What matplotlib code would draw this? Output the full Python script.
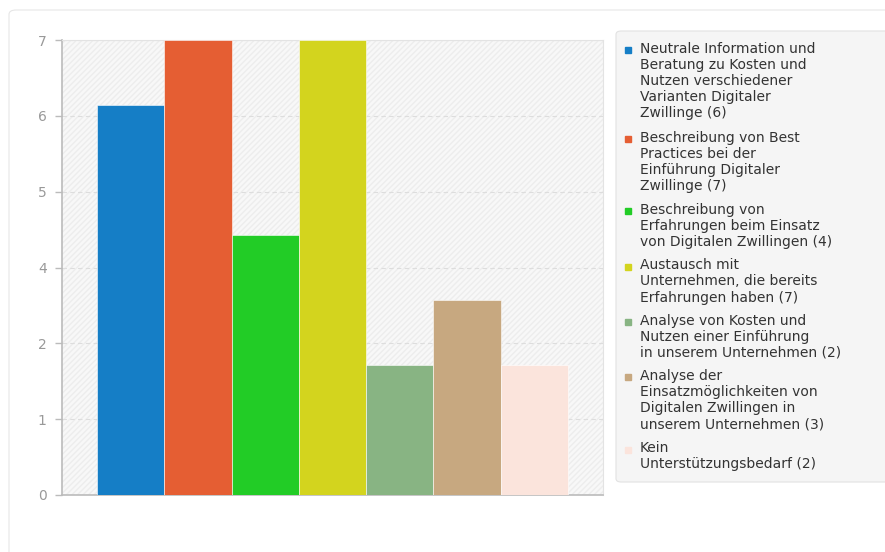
import matplotlib
matplotlib.use("Agg")
import matplotlib.pyplot as plt
import numpy as np
from matplotlib.patches import FancyBboxPatch, Rectangle
from matplotlib.lines import Line2D

# data
labels = [
    "Neutrale Information und\nBeratung zu Kosten und\nNutzen verschiedener\nVarianten Digitaler\nZwillinge (6)",
    "Beschreibung von Best\nPractices bei der\nEinführung Digitaler\nZwillinge (7)",
    "Beschreibung von\nErfahrungen beim Einsatz\nvon Digitalen Zwillingen (4)",
    "Austausch mit\nUnternehmen, die bereits\nErfahrungen haben (7)",
    "Analyse von Kosten und\nNutzen einer Einführung\nin unserem Unternehmen (2)",
    "Analyse der\nEinsatzmöglichkeiten von\nDigitalen Zwillingen in\nunserem Unternehmen (3)",
    "Kein\nUnterstützungsbedarf (2)",
]
values = [6, 7, 4, 7, 2, 3, 2]
colors = ["#157ec6", "#e55e33", "#22cc26", "#d3d41e", "#88b483", "#c7a880", "#fbe4dc"]
y_ticks = np.linspace(0, 7, 7)
y_tick_labels = ["0", "1", "2", "4", "5", "6", "7"]

W, H = 885, 552
fig = plt.figure(figsize=(W / 100, H / 100), dpi=100)
fig.patch.set_facecolor("white")

# outer card
fig.add_artist(FancyBboxPatch((9 / W, -0.05), (W + 20) / W, 1.05 - 10 / H,
                              boxstyle="round,pad=0,rounding_size=0.008",
                              transform=fig.transFigure, facecolor="white",
                              edgecolor="#e6e6e6", linewidth=0.8, zorder=0))

ax = fig.add_axes([62 / W, 1 - 495 / H, (603 - 62) / W, (495 - 40) / H])
ax.set_facecolor("#f8f8f8")
bg = Rectangle((0, 0), 1, 1, transform=ax.transAxes, facecolor="none",
               edgecolor="#ededed", hatch="//////", linewidth=0, zorder=0)
ax.add_patch(bg)

x = np.arange(len(values))
ax.bar(x, values, width=1.0, color=colors, edgecolor="white", linewidth=0.4, zorder=3)

ax.set_xlim(-1.02, 7.02)
ax.set_ylim(0, 7)
ax.set_yticks(y_ticks)
ax.set_yticklabels(y_tick_labels)
ax.set_xticks([])
ax.tick_params(axis="y", colors="#bbbbbb", labelcolor="#999999", labelsize=10,
               length=5, width=1, pad=6)
ax.grid(axis="y", color="#dddddd", linestyle=(0, (4, 3)), linewidth=0.8, zorder=1)
for s in ["left", "bottom"]:
    ax.spines[s].set_color("#bbbbbb")
    ax.spines[s].set_linewidth(1.2)
for s in ["top", "right"]:
    ax.spines[s].set_color("#e3e3e3")
    ax.spines[s].set_linewidth(0.8)

# legend box
fig.add_artist(FancyBboxPatch((616 / W, 1 - 482 / H), 300 / W, (482 - 31) / H,
                              boxstyle="round,pad=0,rounding_size=0.006",
                              transform=fig.transFigure, facecolor="#f5f5f5",
                              edgecolor="#e2e2e2", linewidth=0.8, zorder=1))

# legend entries, drawn by hand so the marker sits on the first line
line_h = 16.8
gap = 5.0
y = 50.0  # centre of first line, pixels from top
for lab, c in zip(labels, colors):
    fig.add_artist(Line2D([628 / W], [1 - y / H], transform=fig.transFigure,
                          linestyle="none", marker="s", markersize=4,
                          markerfacecolor=c, markeredgecolor=c, zorder=3))
    fig.text(640 / W, 1 - (y - line_h / 2) / H, lab, fontsize=10, color="#333333",
             va="top", ha="left", linespacing=1.2, zorder=3)
    y += lab.count("\n") * line_h + line_h + gap

fig.savefig("out.png", dpi=100)
